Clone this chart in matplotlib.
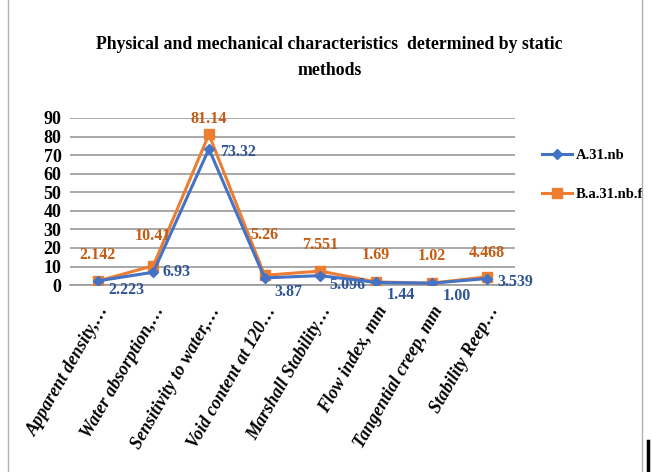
import numpy as np
import matplotlib.pyplot as plt
from matplotlib.patches import Rectangle
from matplotlib.lines import Line2D

plt.rcParams["font.family"] = ["Liberation Serif", "DejaVu Serif"]

categories = [
    "Apparent density,\u2026",
    "Water absorption,\u2026",
    "Sensitivity to water,\u2026",
    "Void content at 120\u2026",
    "Marshall Stability\u2026",
    "Flow index, mm",
    "Tangential creep, mm",
    "Stability Reep\u2026",
]
series_a = [2.223, 6.93, 73.32, 3.87, 5.096, 1.44, 1.00, 3.539]
labels_a = ["2.223", "6.93", "73.32", "3.87", "5.096", "1.44", "1.00", "3.539"]
series_b = [2.142, 10.41, 81.14, 5.26, 7.551, 1.69, 1.02, 4.468]
labels_b = ["2.142", "10.41", "81.14", "5.26", "7.551", "1.69", "1.02", "4.468"]

BLUE = "#4472C4"
ORANGE = "#ED7D31"
BLUE_TXT = "#2F5597"
ORANGE_TXT = "#C55A11"

fig = plt.figure(figsize=(6.52, 4.72), dpi=100)
ax = fig.add_axes([0.107, 0.396, 0.683, 0.354])

x = np.arange(len(categories))
ax.plot(x, series_a, color=BLUE, lw=2.2, marker="D", ms=5, label="A.31.nb", zorder=4)
ax.plot(x, series_b, color=ORANGE, lw=2.2, marker="s", ms=7, label="B.a.31.nb.f", zorder=3)

# label offsets in pixels
off_b = [(0, 26), (0, 30), (0, 15), (0, 40), (0, 26), (0, 27), (0, 27), (0, 24)]
off_a = [(29, -9), (23, 0), (29, -3), (24, -14), (27, -9), (25, -13), (25, -13), (28, -3)]
for i in range(len(x)):
    ax.annotate(labels_b[i], (x[i], series_b[i]), xytext=off_b[i], textcoords="offset pixels",
                ha="center", va="center", color=ORANGE_TXT, fontsize=11.5, fontweight="bold")
    ax.annotate(labels_a[i], (x[i], series_a[i]), xytext=off_a[i], textcoords="offset pixels",
                ha="center", va="center", color=BLUE_TXT, fontsize=11.5, fontweight="bold")

ax.set_xlim(-0.5, len(categories) - 0.5)
ax.set_ylim(0, 90)
ax.yaxis.grid(True, color="#9a9a9a", lw=1.2)
ax.set_axisbelow(True)
for s in ["top", "right", "left"]:
    ax.spines[s].set_visible(False)
ax.spines["bottom"].set_color("#9a9a9a")
ax.spines["bottom"].set_linewidth(1.2)
ax.tick_params(axis="y", length=0, pad=6)
ax.tick_params(axis="x", length=0, pad=13)
ax.set_yticks(np.arange(0, 91, 10))
ax.set_yticklabels([str(v) for v in range(0, 91, 10)], fontsize=13, fontweight="bold")
ax.set_xticks(x)
ax.set_xticklabels(categories, rotation=60, ha="right", rotation_mode="anchor",
                   fontsize=13, fontweight="bold", fontstyle="italic")

fig.text(0.505, 0.878, "Physical and mechanical characteristics  determined by static\nmethods",
         ha="center", va="center", fontsize=12.8, fontweight="bold", linespacing=1.75)

ax.legend(loc="center left", bbox_to_anchor=(1.032, 0.66), frameon=False,
          prop={"size": 10.5, "weight": "bold"}, handlelength=2.0, handletextpad=0.3,
          labelspacing=1.8)

fig.patches.append(Rectangle((0.013, -0.01), 0.972, 1.02, transform=fig.transFigure,
                             fill=False, edgecolor="#b0b0b0", lw=1.0))
fig.lines.append(Line2D([0.994, 0.994], [0.0, 0.065], transform=fig.transFigure,
                        color="black", lw=2.5))

fig.savefig("out.png", dpi=100)
